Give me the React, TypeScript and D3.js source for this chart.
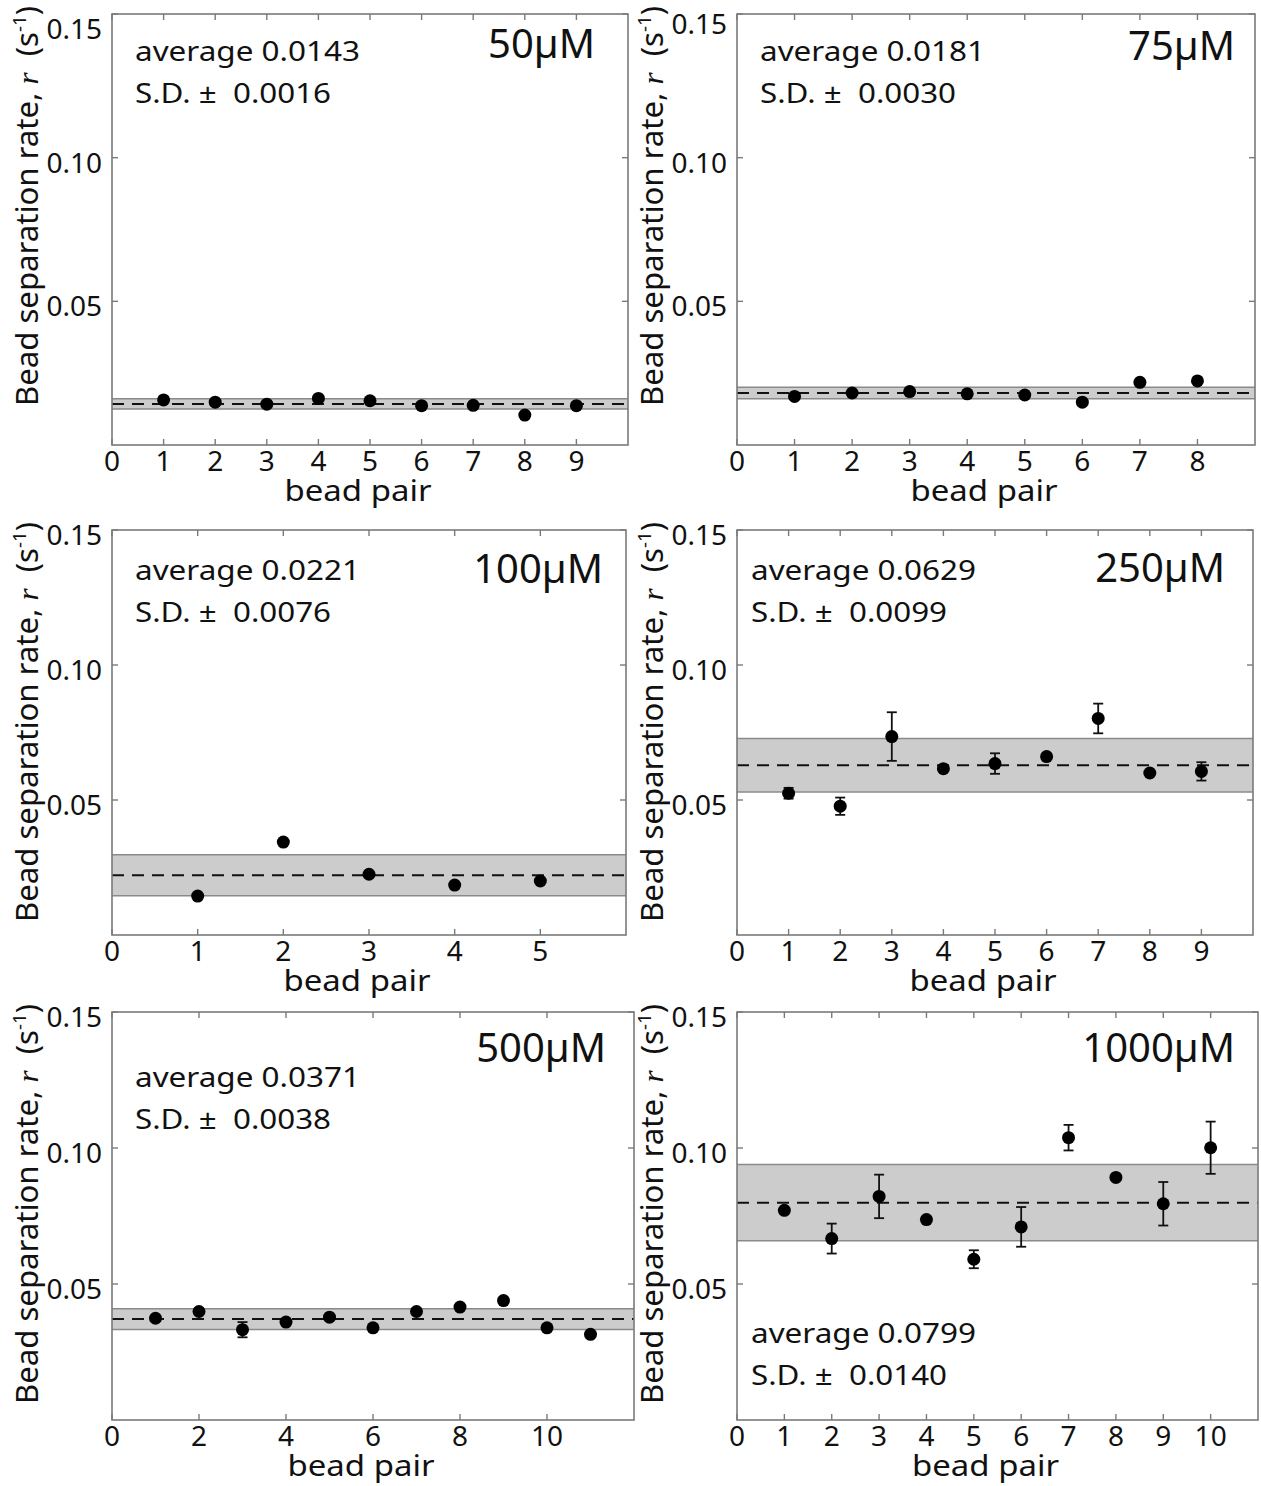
import React from 'react';
import * as d3 from 'd3';

// bead separation rate r (s^-1) for each bead pair, per ATP concentration
const pairs50 = [1, 2, 3, 4, 5, 6, 7, 8, 9];
const rate50 = [0.0157, 0.0149, 0.0142, 0.0162, 0.0154, 0.0137, 0.0138, 0.0104, 0.0137];

const pairs75 = [1, 2, 3, 4, 5, 6, 7, 8];
const rate75 = [0.0169, 0.0181, 0.0186, 0.0178, 0.0174, 0.0149, 0.0218, 0.0223];

const pairs100 = [1, 2, 3, 4, 5];
const rate100 = [0.0144, 0.0344, 0.0225, 0.0185, 0.0200];

const pairs250 = [1, 2, 3, 4, 5, 6, 7, 8, 9];
const rate250 = [0.0525, 0.0477, 0.0735, 0.0616, 0.0635, 0.0661, 0.0802, 0.0600, 0.0606];
const err250 = [0.0020, 0.0032, 0.0090, 0.0008, 0.0038, 0.0010, 0.0055, 0.0008, 0.0034];

const pairs500 = [1, 2, 3, 4, 5, 6, 7, 8, 9, 10, 11];
const rate500 = [0.0374, 0.0399, 0.0332, 0.0360, 0.0378, 0.0339, 0.0399, 0.0415, 0.0439, 0.0339, 0.0315];
const err500 = [0.0010, 0, 0.0028, 0.0008, 0, 0, 0, 0, 0, 0, 0];

const pairs1000 = [1, 2, 3, 4, 5, 6, 7, 8, 9, 10];
const rate1000 = [0.0771, 0.0667, 0.0822, 0.0737, 0.0591, 0.0710, 0.1038, 0.0892, 0.0795, 0.1001];
const err1000 = [0.0008, 0.0055, 0.0080, 0.0008, 0.0033, 0.0073, 0.0047, 0.0010, 0.0080, 0.0096];

const concLabels = ['50µM', '75µM', '100µM', '250µM', '500µM', '1000µM'];
const averages = [0.0143, 0.0181, 0.0221, 0.0629, 0.0371, 0.0799];
const sds = [0.0016, 0.0030, 0.0076, 0.0099, 0.0038, 0.0140];
// half height of the grey band drawn round the average
const bandHalf = [0.0018, 0.0020, 0.0076, 0.0099, 0.0038, 0.0140];
const xMaxes = [10, 9, 6, 10, 12, 11];
const xTickSets = [
  [0, 1, 2, 3, 4, 5, 6, 7, 8, 9],
  [0, 1, 2, 3, 4, 5, 6, 7, 8],
  [0, 1, 2, 3, 4, 5],
  [0, 1, 2, 3, 4, 5, 6, 7, 8, 9],
  [0, 2, 4, 6, 8, 10],
  [0, 1, 2, 3, 4, 5, 6, 7, 8, 9, 10],
];
const yTicks = [0.05, 0.1, 0.15];

const FONT = '"Noto Sans", "Open Sans", sans-serif';

// plot boxes and where the text sits in each
const boxes = [
  { left: 112, right: 628, top: 14, bottom: 445, textX: 135, textY: 61, topShift: 25, concR: 595, concY: 58 },
  { left: 737, right: 1255, top: 14, bottom: 445, textX: 760, textY: 61, topShift: 20, concR: 1235, concY: 60 },
  { left: 112, right: 626, top: 530, bottom: 935, textX: 135, textY: 580, topShift: 15, concR: 603, concY: 583 },
  { left: 737, right: 1253, top: 530, bottom: 935, textX: 751, textY: 580, topShift: 15, concR: 1225, concY: 582 },
  { left: 112, right: 634, top: 1012, bottom: 1420, textX: 135, textY: 1087, topShift: 15, concR: 606, concY: 1062 },
  { left: 737, right: 1258, top: 1012, bottom: 1420, textX: 751, textY: 1343, topShift: 15, concR: 1235, concY: 1062 },
];

const panelData = [
  { pairs: pairs50, rate: rate50, err: null },
  { pairs: pairs75, rate: rate75, err: null },
  { pairs: pairs100, rate: rate100, err: null },
  { pairs: pairs250, rate: rate250, err: err250 },
  { pairs: pairs500, rate: rate500, err: err500 },
  { pairs: pairs1000, rate: rate1000, err: err1000 },
];

function Panel({ i }: { i: number }) {
  const b = boxes[i];
  const d = panelData[i];
  const x = d3.scaleLinear().domain([0, xMaxes[i]]).range([b.left, b.right]);
  const y = d3.scaleLinear().domain([0, 0.15]).range([b.bottom, b.top]);
  const fmt = d3.format('.2f');
  const avg = averages[i];
  const tick = 6;
  const cap = 5;
  const hi = y(avg + bandHalf[i]);
  const lo = y(avg - bandHalf[i]);

  return (
    <g>
      {/* band round the average */}
      <rect x={b.left} width={b.right - b.left} y={hi} height={lo - hi} fill="#cccccc" />
      <line x1={b.left} x2={b.right} y1={hi} y2={hi} stroke="#8a8a8a" strokeWidth={1.5} />
      <line x1={b.left} x2={b.right} y1={lo} y2={lo} stroke="#8a8a8a" strokeWidth={1.5} />
      <line x1={b.left} x2={b.right} y1={y(avg)} y2={y(avg)} stroke="#111" strokeWidth={2} strokeDasharray="12,8" />

      {/* frame and ticks */}
      <rect x={b.left} y={b.top} width={b.right - b.left} height={b.bottom - b.top}
        fill="none" stroke="#7a7a7a" strokeWidth={1.6} />
      {xTickSets[i].map(t => (
        <g key={'xt' + t}>
          <line x1={x(t)} x2={x(t)} y1={b.bottom} y2={b.bottom - tick} stroke="#7a7a7a" strokeWidth={1.4} />
          <line x1={x(t)} x2={x(t)} y1={b.top} y2={b.top + tick} stroke="#7a7a7a" strokeWidth={1.4} />
          <text x={x(t)} y={b.bottom + 26} textAnchor="middle" fontSize={28} fontFamily={FONT} fill="#111">{t}</text>
        </g>
      ))}
      {yTicks.map(t => (
        <g key={'yt' + t}>
          <line x1={b.left} x2={b.left + tick} y1={y(t)} y2={y(t)} stroke="#7a7a7a" strokeWidth={1.4} />
          <line x1={b.right} x2={b.right - tick} y1={y(t)} y2={y(t)} stroke="#7a7a7a" strokeWidth={1.4} />
          <text x={b.left - 10} y={y(t) + (t === 0.15 ? b.topShift : 15)} textAnchor="end"
            fontSize={28} fontFamily={FONT} fill="#111">{fmt(t)}</text>
        </g>
      ))}

      {/* error bars */}
      {d.err && d.pairs.map((p, k) => d.err![k] > 0 && (
        <g key={'e' + p} stroke="#111" strokeWidth={1.8}>
          <line x1={x(p)} x2={x(p)} y1={y(d.rate[k] + d.err![k])} y2={y(d.rate[k] - d.err![k])} />
          <line x1={x(p) - cap} x2={x(p) + cap} y1={y(d.rate[k] + d.err![k])} y2={y(d.rate[k] + d.err![k])} />
          <line x1={x(p) - cap} x2={x(p) + cap} y1={y(d.rate[k] - d.err![k])} y2={y(d.rate[k] - d.err![k])} />
        </g>
      ))}
      {/* points */}
      {d.pairs.map((p, k) => (
        <circle key={'c' + p} cx={x(p)} cy={y(d.rate[k])} r={6.5} fill="#000" />
      ))}

      {/* annotations */}
      <text x={b.concR} y={b.concY} textAnchor="end" fontSize={40} fontFamily={FONT} fill="#111">{concLabels[i]}</text>
      <text x={b.textX} y={b.textY} fontSize={28} fontFamily={FONT} fill="#111"
        textLength={225} lengthAdjust="spacingAndGlyphs">average {avg.toFixed(4)}</text>
      <text x={b.textX} y={b.textY + 42} fontSize={28} fontFamily={FONT} fill="#111"
        textLength={196} lengthAdjust="spacingAndGlyphs" style={{ whiteSpace: 'pre' }}>{'S.D. ±  ' + sds[i].toFixed(4)}</text>

      {/* axis titles */}
      <text x={(b.left + b.right) / 2 - 12} y={b.bottom + 56} textAnchor="middle" fontSize={29} fontFamily={FONT} fill="#111"
        textLength={147} lengthAdjust="spacingAndGlyphs">bead pair</text>
      <g transform={`translate(${b.left - 74},${b.top + 192}) rotate(-90)`}>
        <text textAnchor="middle" fontSize={30} fontFamily={FONT} fill="#111" style={{ whiteSpace: 'pre' }}
          textLength={400} lengthAdjust="spacingAndGlyphs">
          Bead separation rate, <tspan fontFamily='"Liberation Serif", serif' fontStyle="italic">r</tspan>  (s<tspan fontSize={18} baselineShift="super">-1</tspan>)
        </text>
      </g>
    </g>
  );
}

export default function App() {
  return (
    <svg width={1261} height={1486} style={{ position: 'absolute', left: 0, top: 0, background: '#fff' }}>
      <rect width={1261} height={1486} fill="#fff" />
      {boxes.map((_, i) => <Panel key={i} i={i} />)}
    </svg>
  );
}
